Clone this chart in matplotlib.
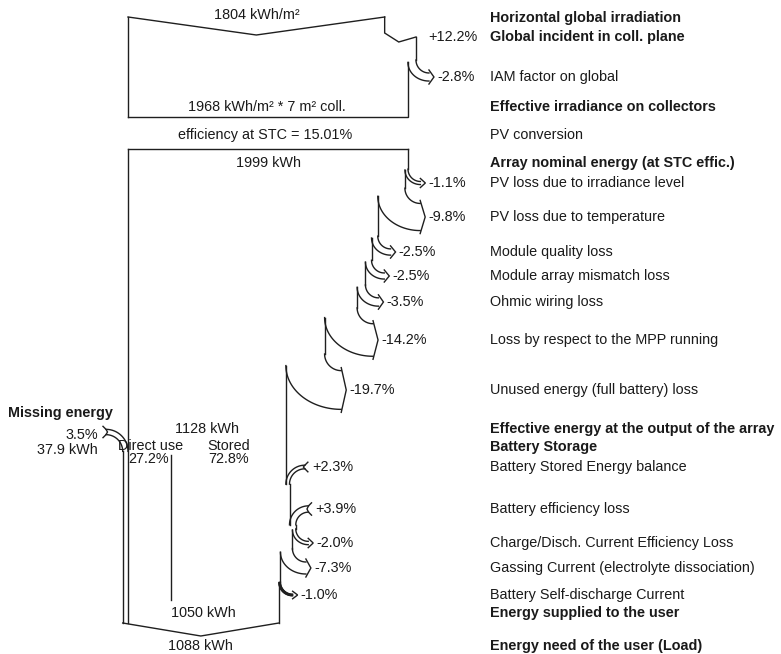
import numpy as np
import matplotlib.pyplot as plt

plt.rcParams['font.family'] = ['Liberation Sans', 'DejaVu Sans']

# values
irr_horizontal = 1804          # kWh/m2
irr_changes = [12.2, -2.8]     # % on the irradiance
irr_effective = 1968           # kWh/m2
collector_area = 7             # m2
stc_efficiency = 15.01         # %
nominal_energy = 1999          # kWh
array_losses = [-1.1, -9.8, -2.5, -2.5, -3.5, -14.2, -19.7]
effective_energy = 1128        # kWh
direct_use = 27.2              # %
stored = 72.8                  # %
battery_changes = [2.3, 3.9, -2.0, -7.3, -1.0]
missing_pct = 3.5
missing_energy = 37.9          # kWh
supplied_energy = 1050         # kWh
load_energy = 1088             # kWh

step_labels = [
    "Horizontal global irradiation",
    "Global incident in coll. plane",
    "IAM factor on global",
    "Effective irradiance on collectors",
    "PV conversion",
    "Array nominal energy (at STC effic.)",
    "PV loss due to irradiance level",
    "PV loss due to temperature",
    "Module quality loss",
    "Module array mismatch loss",
    "Ohmic wiring loss",
    "Loss by respect to the MPP running",
    "Unused energy (full battery) loss",
    "Effective energy at the output of the array",
    "Battery Storage",
    "Battery Stored Energy balance",
    "Battery efficiency loss",
    "Charge/Disch. Current Efficiency Loss",
    "Gassing Current (electrolyte dissociation)",
    "Battery Self-discharge Current",
    "Energy supplied to the user",
    "Energy need of the user (Load)",
]
bold_steps = [0, 1, 3, 5, 13, 14, 20, 21]

# layout (pixels, y going down)
rows = [18, 37, 77, 107, 135, 163, 183, 217, 252, 276, 302, 340, 390,
        429, 447, 467, 509, 543, 568, 595, 613, 646]
X_LEFT = 128
W_MAIN = 280
LABEL_X = 490
LC = '#1f1f1f'
LW = 1.0
FS = 10.4
TC = '#1a1a1a'

fig = plt.figure(figsize=(7.81, 6.54), dpi=100)
ax = fig.add_axes([0, 0, 1, 1])
ax.set_xlim(0, 781)
ax.set_ylim(654, 0)
ax.axis('off')

t = np.linspace(0, np.pi / 2, 40)


def line(xs, ys, lw=LW):
    ax.plot(xs, ys, color=LC, lw=lw, solid_joinstyle='miter')


def txt(x, y, s, ha='left', bold=False):
    ax.text(x, y, s, ha=ha, va='center', fontsize=FS, color=TC,
            fontweight='bold' if bold else 'normal')


def loss_arrow(x_out, w, y_tip, prev_top, pct):
    gap = 12 + 0.12 * w
    x_end = x_out + gap
    y0 = y_tip - w / 2 - gap
    line([x_out, x_out], [prev_top, y0])
    xo = x_end - gap * np.cos(t)
    yo = y0 + gap * np.sin(t)
    x_in = x_out - w
    rx = x_end - x_in
    ry = gap + 0.7 * w
    yc = y_tip + w / 2 - ry
    xi = x_end - rx * np.cos(t)
    yi = yc + ry * np.sin(t)
    if w < 2:
        # very thin band: draw it as a filled dark strip
        ax.fill(np.r_[xo, xi[::-1]], np.r_[yo, yi[::-1]], color=LC, lw=0.8, ec=LC)
    line(xo, yo)
    line(xi, yi)
    line([x_end, x_end + 5, x_end], [y_tip - w / 2 - 3, y_tip, y_tip + w / 2 + 3])
    txt(x_end + 8, y_tip, f"{pct:+.1f}%")
    return x_in, yc


def gain_arrow(x_old, g, y_mid, prev_top, pct):
    x_tail = x_old + 19
    y_t = y_mid - g / 2
    r = x_tail - x_old
    yc = y_t + r
    line([x_old, x_old], [prev_top, yc])
    line(x_tail - r * np.sin(t), yc - r * np.cos(t))
    line(x_tail - (r - g) * np.sin(t), yc - (r - g) * np.cos(t))
    line([x_tail + 3, x_tail, x_tail - 1.5, x_tail, x_tail + 3],
         [y_t - 3, y_t, y_mid, y_t + g, y_t + g + 3])
    txt(x_tail + 7, y_mid, f"{pct:+.1f}%")
    return x_old + g, yc


# irradiance part
irr_scale = W_MAIN / irr_effective
w_top = irr_horizontal * irr_scale
x_r = X_LEFT + w_top
line([X_LEFT, X_LEFT + w_top / 2, x_r], [17, 35, 17])
line([X_LEFT, X_LEFT], [17, 117])
g = w_top * irr_changes[0] / 100
x_new = x_r + g
line([x_r, x_r, x_r + g * 0.45, x_new], [17, 33, 42, 37])
txt(x_new + 12, rows[1], f"{irr_changes[0]:+.1f}%")
w_iam = (w_top + g) * abs(irr_changes[1]) / 100
x_in, y_s = loss_arrow(x_new, w_iam, rows[2], 37, irr_changes[1])
line([x_in, x_in, X_LEFT], [y_s, 117, 117])

txt(X_LEFT + w_top / 2, 15, f"{irr_horizontal} kWh/m²", ha='center')
txt(267, rows[3], f"{irr_effective} kWh/m² * {collector_area} m² coll.", ha='center')
txt(265, rows[4], f"efficiency at STC = {stc_efficiency:.2f}%", ha='center')

# array part
line([X_LEFT, X_LEFT + W_MAIN], [149, 149])
txt(268, rows[5], f"{nominal_energy} kWh", ha='center')
width = W_MAIN
x_r = X_LEFT + W_MAIN
prev = 149
for pct, row in zip(array_losses, rows[6:13]):
    w = width * abs(pct) / 100
    x_r, prev = loss_arrow(x_r, w, row, prev, pct)
    width -= w

# battery split
x_split = X_LEFT + width * direct_use / 100
line([x_split, x_split], [455, 600])
txt(175, rows[13], f"{effective_energy} kWh")
txt(118, 446, "Direct use")
txt(128, 459, f"{direct_use}%")
txt(207, 446, "Stored")
txt(208, 459, f"{stored}%")

for pct, row in zip(battery_changes, rows[15:20]):
    d = width * abs(pct) / 100
    if pct > 0:
        x_r, prev = gain_arrow(x_r, d, row, prev, pct)
        width += d
    else:
        x_r, prev = loss_arrow(x_r, d, row, prev, pct)
        width -= d
line([x_r, x_r], [prev, 623])

# missing energy entering from the left
miss_w = missing_energy * W_MAIN / nominal_energy
x_tail = 106
y_mid = 432
y_t = y_mid - miss_w / 2
R = X_LEFT - x_tail
yc = y_t + R
line(x_tail + R * np.sin(t), yc - R * np.cos(t))
line(x_tail + (R - miss_w) * np.sin(t), yc - (R - miss_w) * np.cos(t))
line([x_tail - 3, x_tail, x_tail + 1.5, x_tail, x_tail - 3],
     [y_t - 3, y_t, y_mid, y_t + miss_w, y_t + miss_w + 3])
x_lb = X_LEFT - miss_w
line([x_lb, x_lb], [yc, 623])
line([X_LEFT, X_LEFT], [149, 623])
txt(8, 413, "Missing energy", bold=True)
txt(98, 435, f"{missing_pct}%", ha='right')
txt(98, 450, f"{missing_energy} kWh", ha='right')

# output
line([x_lb, (x_lb + x_r) / 2, x_r], [623, 636, 623])
txt(171, rows[20], f"{supplied_energy} kWh")
txt(168, rows[21], f"{load_energy} kWh")

for i, lab in enumerate(step_labels):
    txt(LABEL_X, rows[i], lab, bold=i in bold_steps)

fig.savefig('out.png', dpi=100, facecolor='white')
